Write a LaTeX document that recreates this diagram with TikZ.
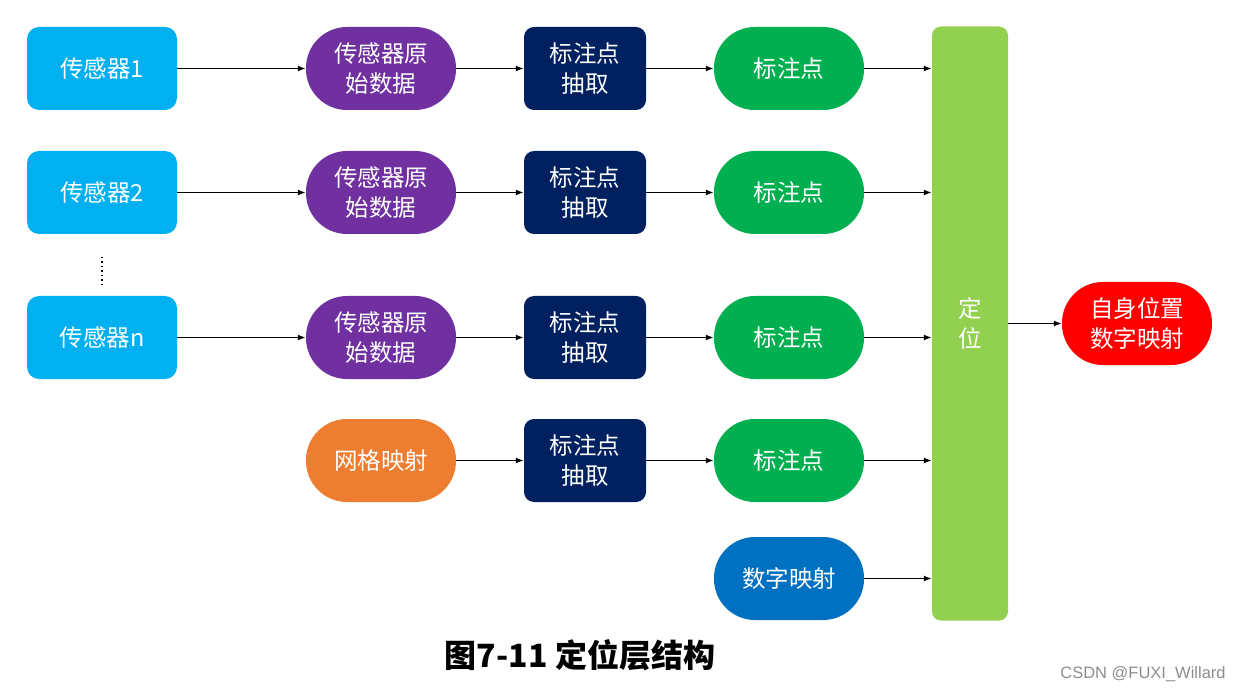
\documentclass[tikz,border=0pt]{standalone}
\usepackage{fontspec}
\setmainfont{Noto Sans CJK SC}
\newfontfamily\wmfont{Liberation Sans}
\usetikzlibrary{arrows.meta}
\definecolor{cSensor}{HTML}{00B0F0}
\definecolor{cPurple}{HTML}{7030A0}
\definecolor{cNavy}{HTML}{002060}
\definecolor{cGreen}{HTML}{00B050}
\definecolor{cOrange}{HTML}{ED7D31}
\definecolor{cBlue}{HTML}{0070C0}
\definecolor{cBar}{HTML}{92D050}
\definecolor{cRed}{HTML}{FF0000}
\tikzset{
  base/.style={text=white, font=\fontsize{23.5}{30}\selectfont, align=center, inner sep=0pt},
  sensorbox/.style={base, fill=cSensor, rounded corners=12pt, minimum width=150pt, minimum height=83pt},
  pill/.style={base, rounded corners=41pt, minimum width=150pt, minimum height=83pt},
  navybox/.style={base, fill=cNavy, rounded corners=10pt, minimum width=122pt, minimum height=83pt},
  conn/.style={draw=black, line width=1.6pt, -{Latex[length=8pt,width=6pt]}}
}
\begin{document}
\begin{tikzpicture}[x=1pt,y=-1pt]
\path[use as bounding box] (0,0) rectangle (1239,692);
% column 1
\node[sensorbox] (s1) at (102,68.5) {传感器1};
\node[sensorbox] (s2) at (102,192.5) {传感器2};
\node[sensorbox] (sn) at (102,337.5) {传感器n};
\coordinate (d1) at (102,257);
\coordinate (d2) at (102,288);
\draw[line width=1.4pt, dash pattern=on 1.4pt off 3.1pt] (d1) -- (d2);
% column 2
\node[pill, fill=cPurple] (p1) at (381,68.5) {传感器原\\始数据};
\node[pill, fill=cPurple] (p2) at (381,192.5) {传感器原\\始数据};
\node[pill, fill=cPurple] (pn) at (381,337.5) {传感器原\\始数据};
\node[pill, fill=cOrange] (g) at (381,460.5) {网格映射};
% column 3
\node[navybox] (e1) at (585,68.5) {标注点\\抽取};
\node[navybox] (e2) at (585,192.5) {标注点\\抽取};
\node[navybox] (en) at (585,337.5) {标注点\\抽取};
\node[navybox] (eg) at (585,460.5) {标注点\\抽取};
% column 4
\node[pill, fill=cGreen] (m1) at (789,68.5) {标注点};
\node[pill, fill=cGreen] (m2) at (789,192.5) {标注点};
\node[pill, fill=cGreen] (mn) at (789,337.5) {标注点};
\node[pill, fill=cGreen] (mg) at (789,460.5) {标注点};
\node[pill, fill=cBlue] (dm) at (789,578.5) {数字映射};
% bar
\node[base, fill=cBar, rounded corners=9pt, minimum width=76pt, minimum height=594pt] (bar) at (970,323.5) {定\\位};
% output
\node[pill, fill=cRed] (out) at (1137,323.5) {自身位置\\数字映射};
% connectors
\foreach \a/\b in {s1/p1,s2/p2,sn/pn,p1/e1,p2/e2,pn/en,g/eg,e1/m1,e2/m2,en/mn,eg/mg}
  \draw[conn] (\a.east) -- (\b.west);
\foreach \a in {m1,m2,mn,mg,dm}
  \draw[conn] (\a.east) -- (\a.east -| bar.west);
\draw[conn] (bar.east |- out.west) -- (out.west);
% title
\node[font=\fontsize{32}{38}\selectfont\bfseries, inner sep=0pt] (title) at (580,655) {图7-11 定位层结构};
\node[font=\wmfont\fontsize{16.5}{18}\selectfont, text=black!45, inner sep=0pt] (wm) at (1143,674) {CSDN @FUXI\_Willard};
\end{tikzpicture}
\end{document}
